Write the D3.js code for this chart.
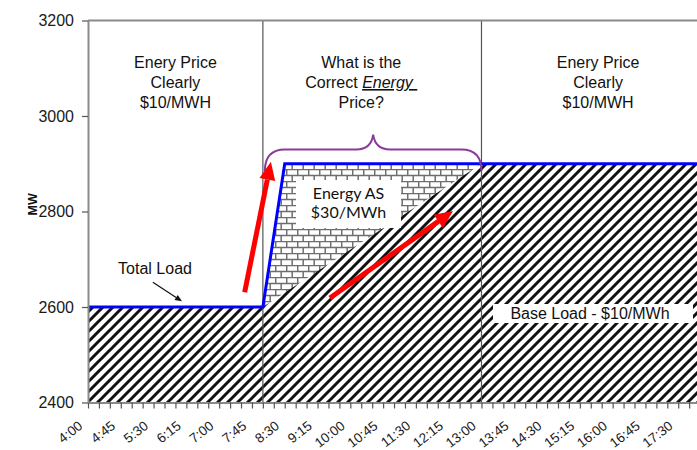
<!DOCTYPE html>
<html>
<head>
<meta charset="utf-8">
<script src="https://cdn.jsdelivr.net/npm/d3@7"></script>
<style>
  body { margin: 0; background: #fff; }
  svg { display: block; }
</style>
</head>
<body>
<svg id="chart" width="697" height="450"></svg>
<script>
// ---- data -------------------------------------------------------------
const tickLabels = ["4:00","4:45","5:30","6:15","7:00","7:45","8:30","9:15","10:00",
  "10:45","11:30","12:15","13:00","13:45","14:30","15:15","16:00","16:45","17:30"];
const yTicks = [2400, 2600, 2800, 3000, 3200];

const totalLoadTimes = ["4:00", "8:00", "8:30", "18:30"];
const totalLoadMW    = [2600, 2600, 2900, 2900];
const baseLoadTimes  = ["4:00", "8:00", "13:00", "18:30"];
const baseLoadMW     = [2600, 2600, 2900, 2900];

const periodBounds = ["8:00", "13:00"];
const periodCenters = ["6:00", "10:15", "15:40"];
const periodLines = [
  ["Enery Price", "Clearly", "$10/MWH"],
  ["What is the", "Correct |Energy|", "Price?"],
  ["Enery Price", "Clearly", "$10/MWH"]
];

// red arrows: [startTime, startMW, endTime, endMW]
const rampArrows = [
  ["7:35", 2631, "8:11", 2904],
  ["9:32", 2619, "12:21", 2801]
];

// ---- helpers ----------------------------------------------------------
const toMin = s => { const [h, m] = s.split(":").map(Number); return h * 60 + m; };

const svg = d3.select("#chart");
const W = 697, H = 450;
const plotLeft = 88, plotTop = 20.5, plotBottom = 402.5;
const step15 = 10.93;            // pixels per 15 minutes

const x = d3.scaleLinear()
  .domain([toMin("4:00"), toMin("18:30")])
  .range([plotLeft, plotLeft + (toMin("18:30") - toMin("4:00")) / 15 * step15]);
const y = d3.scaleLinear().domain([2400, 3200]).range([plotBottom, plotTop]);

const defs = svg.append("defs");

// diagonal hatch for base load
const hatch = defs.append("pattern").attr("id", "hatch")
  .attr("patternUnits", "userSpaceOnUse").attr("width", 10).attr("height", 10);
hatch.append("rect").attr("width", 10).attr("height", 10).attr("fill", "#fff");
hatch.append("path").attr("d", "M-2,2 L2,-2 M0,10 L10,0 M8,12 L12,8")
  .attr("stroke", "#111").attr("stroke-width", 3);

// brick fill for the energy ancillary-service band
const brick = defs.append("pattern").attr("id", "brick")
  .attr("patternUnits", "userSpaceOnUse").attr("width", 11).attr("height", 12)
  .attr("y", 1);
brick.append("rect").attr("width", 11).attr("height", 12).attr("fill", "#fff");
brick.append("path").attr("d", "M0,0.5H11 M0,6.5H11 M0.7,0V6.5 M6.2,6.5V12")
  .attr("stroke", "#6e6e6e").attr("stroke-width", 1.5);

defs.append("clipPath").attr("id", "plotClip")
  .append("rect").attr("x", plotLeft).attr("y", plotTop)
  .attr("width", W - plotLeft).attr("height", plotBottom - plotTop);

const total = totalLoadTimes.map((t, i) => ({ t: toMin(t), mw: totalLoadMW[i] }));
const base  = baseLoadTimes.map((t, i) => ({ t: toMin(t), mw: baseLoadMW[i] }));

const plot = svg.append("g").attr("clip-path", "url(#plotClip)");

const area = d3.area().x(d => x(d.t)).y0(y(2400)).y1(d => y(d.mw));
plot.append("path").datum(total).attr("d", area).attr("fill", "url(#brick)");
plot.append("path").datum(base).attr("d", area).attr("fill", "url(#hatch)");

// period dividers
plot.selectAll(".divider").data(periodBounds).join("line")
  .attr("x1", d => x(toMin(d))).attr("x2", d => x(toMin(d)))
  .attr("y1", plotTop).attr("y2", plotBottom)
  .attr("stroke", "#555").attr("stroke-width", 1.2);

// total load line
plot.append("path").datum(total)
  .attr("d", d3.line().x(d => x(d.t)).y(d => y(d.mw)))
  .attr("fill", "none").attr("stroke", "#0000ff").attr("stroke-width", 3);

// top frame line
svg.append("line").attr("x1", plotLeft).attr("x2", W).attr("y1", plotTop).attr("y2", plotTop)
  .attr("stroke", "#8a8a8a").attr("stroke-width", 2);

// ---- axes -------------------------------------------------------------
const sans = "Liberation Sans, Arial, sans-serif";
const tickMinutes = d3.range(toMin("4:00"), toMin("18:00") + 1, 15);
const labelByMin = new Map(tickLabels.map(l => [toMin(l), l]));

const xAxis = svg.append("g").attr("transform", `translate(0,${plotBottom})`)
  .call(d3.axisBottom(x).tickValues(tickMinutes).tickSize(6).tickSizeOuter(0)
    .tickFormat(m => labelByMin.get(m) || ""));
xAxis.select(".domain").attr("stroke", "#8a8a8a").attr("stroke-width", 2);
xAxis.selectAll(".tick line").attr("stroke", "#555").attr("stroke-width", 1.2);
xAxis.selectAll(".tick text")
  .attr("x", 0).attr("y", 0).attr("dy", 0)
  .attr("transform", "translate(-5,25) rotate(-38)")
  .attr("text-anchor", "end")
  .attr("font-family", sans)
  .attr("font-size", 13.5).attr("fill", "#1a1a1a");

const yAxis = svg.append("g").attr("transform", `translate(${plotLeft},0)`)
  .call(d3.axisLeft(y).tickValues(yTicks).tickSize(6).tickSizeOuter(0).tickPadding(8)
    .tickFormat(d3.format("d")));
yAxis.select(".domain").attr("stroke", "#8a8a8a").attr("stroke-width", 2);
yAxis.selectAll(".tick line").attr("stroke", "#555").attr("stroke-width", 1.2);
yAxis.selectAll(".tick text")
  .attr("font-family", sans)
  .attr("font-size", 16).attr("fill", "#1a1a1a");

svg.append("text")
  .attr("transform", `translate(37,${y(2815)}) rotate(-90)`)
  .attr("text-anchor", "middle")
  .attr("font-family", sans)
  .attr("font-weight", "bold").attr("font-size", 12.5).attr("fill", "#111")
  .text("MW");

// ---- annotations ------------------------------------------------------
periodLines.forEach((lines, i) => {
  const t = svg.append("text").attr("text-anchor", "middle")
    .attr("font-family", sans).attr("font-size", 16).attr("fill", "#111");
  lines.forEach((ln, j) => {
    const row = t.append("tspan").attr("x", x(toMin(periodCenters[i]))).attr("y", 68 + j * 20);
    ln.split("|").forEach((part, k) => {
      const s = row.append("tspan").text(k === 1 ? part + "\u00a0" : part);
      if (k === 1) s.attr("font-style", "italic").style("text-decoration", "underline");
    });
  });
});

// brace over the disputed interval
{
  const l = x(toMin(periodBounds[0])) + 2, r = x(toMin(periodBounds[1]));
  const m = (l + r) / 2, yEnd = y(2885), yBar = y(2930), yTip = y(2961);
  svg.append("path")
    .attr("d", `M${l},${yEnd} Q${l},${yBar} ${l + 20},${yBar} L${m - 17},${yBar}
      Q${m - 2},${yBar} ${m},${yTip} Q${m + 2},${yBar} ${m + 17},${yBar}
      L${r - 20},${yBar} Q${r},${yBar} ${r},${yEnd}`)
    .attr("fill", "none").attr("stroke", "#8b3a9b").attr("stroke-width", 2);
}

// arrow helper
function arrow(x1, y1, x2, y2, color, width, headLen, headW) {
  const a = Math.atan2(y2 - y1, x2 - x1);
  const bx = x2 - headLen * Math.cos(a), by = y2 - headLen * Math.sin(a);
  svg.append("line").attr("x1", x1).attr("y1", y1).attr("x2", bx).attr("y2", by)
    .attr("stroke", color).attr("stroke-width", width);
  const px = Math.sin(a) * headW / 2, py = -Math.cos(a) * headW / 2;
  svg.append("path")
    .attr("d", `M${x2},${y2} L${bx + px},${by + py} L${bx - px},${by - py} Z`)
    .attr("fill", color);
}

rampArrows.forEach(([t1, v1, t2, v2]) =>
  arrow(x(toMin(t1)), y(v1), x(toMin(t2)), y(v2), "#ff0000", 5, 18, 16));

// energy AS label box
svg.append("rect").attr("x", 296).attr("y", 180).attr("width", 105).attr("height", 48)
  .attr("fill", "#fff");
svg.append("text").attr("text-anchor", "middle")
  .attr("font-family", "Lato, Carlito, sans-serif").attr("font-size", 16).attr("fill", "#111")
  .selectAll("tspan").data(["Energy AS", "$30/MWh"]).join("tspan")
  .attr("x", 348.5).attr("y", (d, i) => 199 + i * 19).text(d => d);

// base load label box
svg.append("rect").attr("x", 493).attr("y", 304).attr("width", 200).attr("height", 19)
  .attr("fill", "#fff");
svg.append("text").attr("x", 590).attr("y", 319).attr("text-anchor", "middle")
  .attr("font-family", sans).attr("font-size", 16).attr("fill", "#111")
  .text("Base Load - $10/MWh");

// total load callout
svg.append("text").attr("x", x(toMin("5:32"))).attr("y", 274).attr("text-anchor", "middle")
  .attr("font-family", sans).attr("font-size", 16).attr("fill", "#111")
  .text("Total Load");
arrow(x(toMin("5:29")), y(2652), x(toMin("6:09")), y(2612), "#111", 1.2, 7, 6);
</script>
</body>
</html>
